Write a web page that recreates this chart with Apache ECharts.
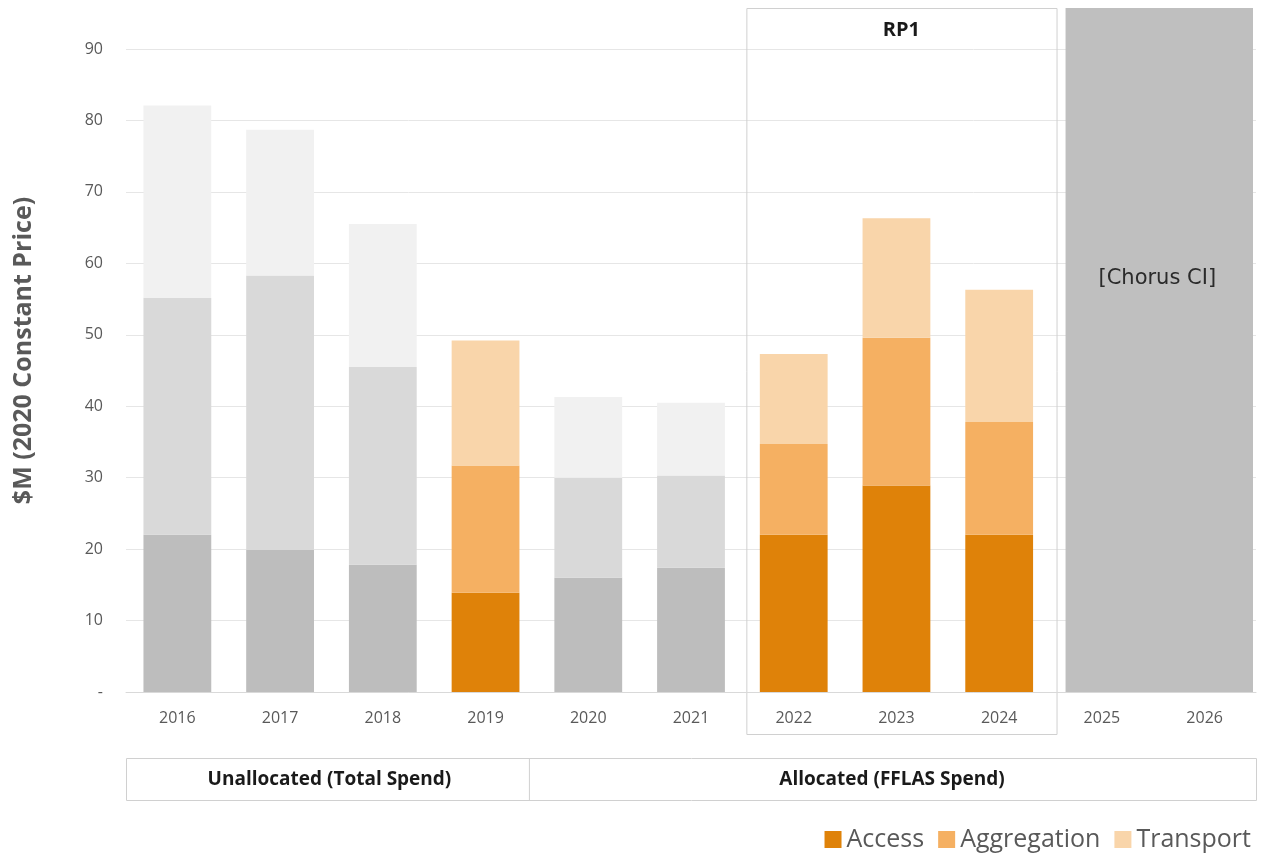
<!DOCTYPE html>
<html>
<head>
<meta charset="utf-8">
<script src="https://cdn.jsdelivr.net/npm/echarts@6/dist/echarts.min.js"></script>
<style>html,body{margin:0;padding:0;background:#fff;}#c{width:1263px;height:854px;}</style>
</head>
<body>
<div id="c"></div>
<script>
const years = ['2016','2017','2018','2019','2020','2021','2022','2023','2024','2025','2026'];
const access      = [22.0, 19.9, 17.8, 13.9, 16.0, 17.4, 22.0, 28.9, 22.0, null, null];
const aggregation = [33.2, 38.4, 27.7, 17.8, 14.0, 12.9, 12.7, 20.7, 15.8, null, null];
const transport   = [26.9, 20.4, 20.0, 17.5, 11.3, 10.2, 12.6, 16.7, 18.5, null, null];
const allocated   = [false, false, false, true, false, false, true, true, true, false, false];
const yTicks = { min: 0, max: 90, interval: 10 };
const orange = ['#DF8209', '#F5B062', '#F9D5AA'];
const grey   = ['#BDBDBD', '#D9D9D9', '#F1F1F1'];
const FONT = '"Open Sans", "Liberation Sans", sans-serif';

function mk(arr, idx) {
  return arr.map((v, i) => v == null ? null : ({
    value: v,
    itemStyle: { color: allocated[i] ? orange[idx] : grey[idx] }
  }));
}

const chart = echarts.init(document.getElementById('c'), null, { renderer: 'canvas' });
const grid = { left: 126, right: 7, top: 49, bottom: 162 };

chart.setOption({
  animation: false,
  textStyle: { fontFamily: FONT },
  grid: grid,
  legend: {
    right: 7, top: 822,
    itemWidth: 17, itemHeight: 17, itemGap: 14,
    icon: 'rect',
    textStyle: { fontSize: 25, color: '#595959', fontFamily: FONT },
    data: ['Access', 'Aggregation', 'Transport']
  },
  xAxis: {
    type: 'category',
    data: years,
    axisLine: { lineStyle: { color: '#D9D9D9' } },
    axisTick: { show: false },
    axisLabel: { color: '#595959', fontSize: 16, margin: 18, fontFamily: FONT }
  },
  yAxis: {
    type: 'value',
    min: yTicks.min, max: yTicks.max, interval: yTicks.interval,
    name: '$M (2020 Constant Price)',
    nameLocation: 'middle',
    nameRotate: 90,
    nameGap: 90,
    nameTextStyle: { fontSize: 25, fontWeight: 'bold', color: '#595959', fontFamily: FONT, padding: [0, 0, 0, 40] },
    axisLine: { show: false },
    axisTick: { show: false },
    splitLine: { lineStyle: { color: '#E6E6E6', width: 1 } },
    axisLabel: {
      color: '#595959', fontSize: 16, margin: 23, fontFamily: FONT,
      formatter: v => v === 0 ? '-' : String(v)
    }
  },
  series: [
    { name: 'Access', type: 'bar', stack: 's', barCategoryGap: '34%', data: mk(access, 0), itemStyle: { color: orange[0] } },
    { name: 'Aggregation', type: 'bar', stack: 's', data: mk(aggregation, 1), itemStyle: { color: orange[1] } },
    { name: 'Transport', type: 'bar', stack: 's', data: mk(transport, 2), itemStyle: { color: orange[2] } },
    {
      name: 'Chorus CI', type: 'custom', clip: false, z: 1,
      data: [[9, 10]],
      renderItem: function (params, api) {
        const bw = api.size([1, 0])[0];
        const x0 = api.coord([api.value(0), 0])[0] - bw / 2 + 15;
        const x1 = api.coord([api.value(1), 0])[0] + bw / 2 - 3;
        const yb = api.coord([9, 0])[1];
        const yt = params.coordSys.y - 41;
        return {
          type: 'group',
          children: [
            { type: 'rect', shape: { x: x0, y: yt, width: x1 - x0, height: yb - yt }, style: { fill: '#BFBFBF' } },
            { type: 'text', style: { x: (x0 + x1) / 2 - 2, y: api.coord([9, 57.9])[1], text: '[Chorus CI]', fill: '#2b2b2b', font: '21px "DejaVu Sans", sans-serif', align: 'center', verticalAlign: 'middle' } }
          ]
        };
      }
    }
  ]
});

// Annotation boxes (RP1 bracket and bottom table)
const bw = chart.convertToPixel({ xAxisIndex: 0 }, '2017') - chart.convertToPixel({ xAxisIndex: 0 }, '2016');
const rpL = chart.convertToPixel({ xAxisIndex: 0 }, '2022') - bw / 2 + 4;
const rpR = chart.convertToPixel({ xAxisIndex: 0 }, '2024') + bw / 2 + 6;
const divX = chart.convertToPixel({ xAxisIndex: 0 }, '2019') + bw / 2 - 8;
const tL = grid.left, tR = 1263 - grid.right;
const lineC = '#D0D0D0';
chart.setOption({
  graphic: [
    { type: 'rect', silent: true, z: 0, shape: { x: rpL + 0.5, y: 8.5, width: rpR - rpL, height: 726 }, style: { fill: null, stroke: lineC, lineWidth: 1 } },
    { type: 'text', silent: true, style: { x: (rpL + rpR) / 2, y: 30, text: 'RP1', fill: '#1a1a1a', font: 'bold 20px "Open Sans", sans-serif', align: 'center', verticalAlign: 'middle' } },
    { type: 'rect', silent: true, shape: { x: tL + 0.5, y: 758.5, width: tR - tL, height: 42 }, style: { fill: null, stroke: lineC, lineWidth: 1 } },
    { type: 'line', silent: true, shape: { x1: divX + 0.5, y1: 758.5, x2: divX + 0.5, y2: 800.5 }, style: { stroke: lineC, lineWidth: 1 } },
    { type: 'text', silent: true, style: { x: (tL + divX) / 2 + 2, y: 780, text: 'Unallocated (Total Spend)', fill: '#1a1a1a', font: 'bold 19px "Open Sans", sans-serif', align: 'center', verticalAlign: 'middle' } },
    { type: 'text', silent: true, style: { x: 892, y: 780, text: 'Allocated (FFLAS Spend)', fill: '#1a1a1a', font: 'bold 19px "Open Sans", sans-serif', align: 'center', verticalAlign: 'middle' } }
  ]
});
</script>
</body>
</html>
